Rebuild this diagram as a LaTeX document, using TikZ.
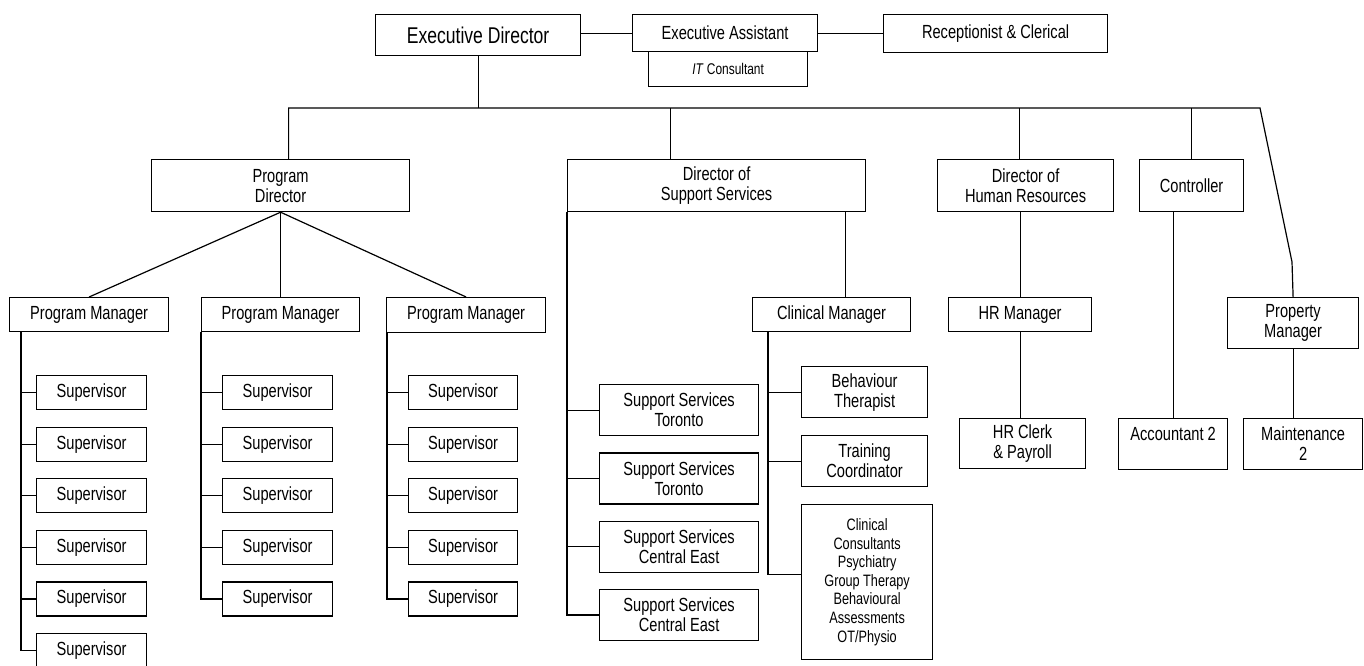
\documentclass[tikz,border=0pt]{standalone}
\usepackage{fontspec}
\setmainfont{Liberation Sans}[FakeStretch=0.77]
\usetikzlibrary{positioning,calc}

\begin{document}
\begin{tikzpicture}[x=1pt,y=-1pt,
  box/.style={draw,line width=1.2pt,anchor=north west,align=center,inner sep=0pt,
    font=\fontsize{19}{20}\selectfont},
  wire/.style={line width=1.2pt}]
  \useasboundingbox (0,0) rectangle (1364,665);
  \clip (0,0) rectangle (1364,665);
  % --- top row ---
  \node[box,minimum width=205,minimum height=41,font=\fontsize{22.8}{24}\selectfont] (ed) at (375,14) {Executive Director};
  \node[box,minimum width=185,minimum height=37] (ea) at (632,14) {Executive Assistant};
  \node[box,minimum width=159,minimum height=35,font=\fontsize{15.5}{17}\selectfont] (it) at (648,51) {\textit{IT} Consultant};
  \node[box,minimum width=224,minimum height=38] (rc) at (883,14) {Receptionist \& Clerical};
  \draw[wire] (ea.west) -- (ea.west -| ed.east);
  \draw[wire] (ea.east) -- (ea.east -| rc.west);
  % --- directors ---
  \node[box,minimum width=258,minimum height=52] (pd) at (151,159) {Program\\Director};
  \node[box,minimum width=298,minimum height=52] (dss) at (567,159) {Director of\\Support Services};
  \node[box,minimum width=176,minimum height=52] (dhr) at (937,159) {Director of\\Human Resources};
  \node[box,minimum width=104,minimum height=52] (ctl) at (1139,159) {Controller};
  % --- managers ---
  \node[box,minimum width=159,minimum height=34] (pm1) at (9,297) {Program Manager};
  \node[box,minimum width=158,minimum height=34] (pm2) at (201,297) {Program Manager};
  \node[box,minimum width=159,minimum height=35] (pm3) at (386,297) {Program Manager};
  \node[box,minimum width=158,minimum height=34] (cm) at (752,297) {Clinical Manager};
  \node[box,minimum width=143,minimum height=34] (hrm) at (948,297) {HR Manager};
  \node[box,minimum width=131,minimum height=51] (prm) at (1227,297) {Property\\Manager};
  % --- bus from the executive director ---
  \coordinate (busw) at (288,108);
  \coordinate (buse) at (1260,108);
  \coordinate (kink) at (1292,262);
  \draw[wire] (ed.south) -- (ed.south |- busw);
  \draw[wire] ([xshift=8]pd.north) |- (buse) -- (kink) -- (prm.north);
  \draw[wire] ([xshift=-46]dss.north) -- ([xshift=-46]dss.north |- busw);
  \draw[wire] ([xshift=-6]dhr.north) -- ([xshift=-6]dhr.north |- busw);
  \draw[wire] (ctl.north) -- (ctl.north |- busw);
  % program director
  \draw[wire] (pm1.north) -- (pd.south) -- (pm3.north);
  \draw[wire] (pd.south) -- (pm2.north);
  % supervisors
  \foreach \i in {1,...,6}
    \node[box,minimum width=110,minimum height=34] (sa\i) at (36,{375+51.6*(\i-1)}) {Supervisor};
  \foreach \i in {1,...,5} {
    \node[box,minimum width=110,minimum height=34] (sb\i) at (222,{375+51.6*(\i-1)}) {Supervisor};
    \node[box,minimum width=109,minimum height=34] (sc\i) at (408,{375+51.6*(\i-1)}) {Supervisor};
  }
  \coordinate (spa) at ([xshift=12]pm1.south west);
  \coordinate (spb) at (pm2.south west);
  \coordinate (spc) at ([xshift=1]pm3.south west);
  \draw[wire] (spa) |- (sa6.west);
  \draw[wire] (spb) |- (sb5.west);
  \draw[wire] (spc) |- (sc5.west);
  \foreach \i in {1,...,5}
    \draw[wire] (sa\i.west) -- (sa\i.west -| spa);
  \foreach \i in {1,...,4} {
    \draw[wire] (sb\i.west) -- (sb\i.west -| spb);
    \draw[wire] (sc\i.west) -- (sc\i.west -| spc);
  }
  % support services
  \foreach \i/\lab in {1/Toronto,2/Toronto,3/Central East,4/Central East}
    \node[box,minimum width=159,minimum height=51] (ss\i) at (599,{384+68.3*(\i-1)}) {Support Services\\\lab};
  \coordinate (spd) at (dss.south west);
  \draw[wire] (spd) |- (ss4.west);
  \foreach \i in {1,...,3}
    \draw[wire] (ss\i.west) -- (ss\i.west -| spd);
  \draw[wire] ([xshift=14]cm.north) -- ([xshift=14]cm.north |- dss.south);
  % clinical staff
  \node[box,minimum width=126,minimum height=51] (bt) at (801,366) {Behaviour\\Therapist};
  \node[box,minimum width=126,minimum height=51] (tc) at (801,435) {Training\\Coordinator};
  \node[box,minimum width=131,minimum height=155,font=\fontsize{16.5}{18.6}\selectfont] (cc) at (801,504)
    {Clinical\\Consultants\\Psychiatry\\Group Therapy\\Behavioural\\Assessments\\OT/Physio};
  \coordinate (spe) at ([xshift=16]cm.south west);
  \draw[wire] (spe) |- ([yshift=8]cc.west);
  \draw[wire] (bt.west) -- (bt.west -| spe);
  \draw[wire] (tc.west) -- (tc.west -| spe);
  % hr, accounts, property
  \node[box,minimum width=126,minimum height=50] (hrc) at (959,418) {HR Clerk\\\& Payroll};
  \node[box,minimum width=109,minimum height=51] (acc) at (1118,418) {Accountant 2\\~};
  \node[box,minimum width=119,minimum height=51] (mnt) at (1243,418) {Maintenance\\2};
  \draw[wire] (hrm.north) -- (hrm.north |- dhr.south);
  \draw[wire] (hrm.south) -- (hrm.south |- hrc.north);
  \draw[wire] (acc.north) -- (acc.north |- ctl.south);
  \draw[wire] (prm.south) -- (prm.south |- mnt.north);
\end{tikzpicture}
\end{document}
